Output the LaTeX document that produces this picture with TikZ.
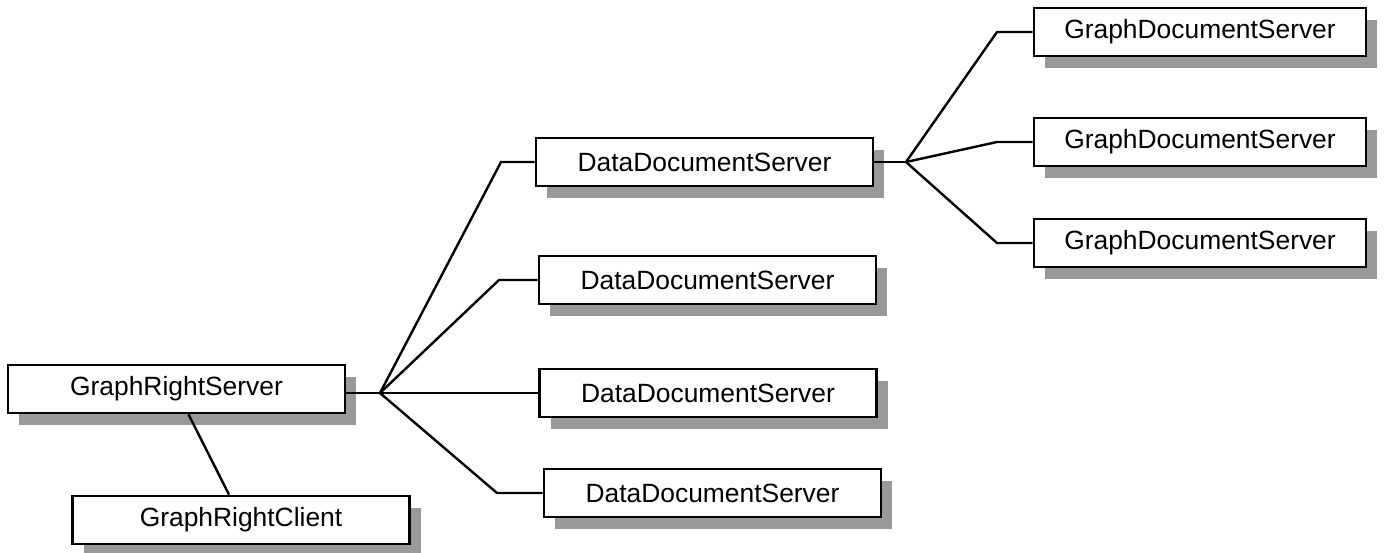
\documentclass[tikz,border=0pt]{standalone}
\usepackage{fontspec}
\setmainfont{Liberation Sans}
\usetikzlibrary{shadows}

\begin{document}
\begin{tikzpicture}[x=0.5pt,y=-0.5pt,line width=1.2pt,
  every node/.style={font=\fontsize{13.2}{16}\selectfont},
  srv/.style={draw,line width=1.35pt,fill=white,minimum width=168.5pt,minimum height=24pt,inner sep=0pt,
    drop shadow={shadow xshift=5.5pt,shadow yshift=-6pt,fill=black!40,opacity=1}}]
  \useasboundingbox (0,0) rectangle (1390,552);
  \node[srv] (grs) at (176.5,389) {GraphRightServer};
  \node[srv] (grc) at (241,520) {GraphRightClient};
  \node[srv] (dds1) at (704.5,162) {DataDocumentServer};
  \node[srv] (dds2) at (707.5,280) {DataDocumentServer};
  \node[srv] (dds3) at (708,393) {DataDocumentServer};
  \node[srv] (dds4) at (712.5,493) {DataDocumentServer};
  \node[srv,minimum width=166pt] (gds1) at (1200,32) {GraphDocumentServer};
  \node[srv,minimum width=166pt] (gds2) at (1200,142) {GraphDocumentServer};
  \node[srv,minimum width=166pt] (gds3) at (1200,243) {GraphDocumentServer};
  % fan points
  \coordinate (j1) at (380,393);
  \coordinate (s1) at (501,162);
  \coordinate (s2) at (499,280);
  \coordinate (s4) at (497,493);
  \coordinate (j2) at (906,162);
  \coordinate (t1) at (997,32);
  \coordinate (t2) at (997,142);
  \coordinate (t3) at (997,243);
  \draw ([xshift=6pt]grs.south) -- ([xshift=-6pt]grc.north);
  \draw (grs.east |- j1) -- (j1);
  \draw (j1) -- (s1) -- (dds1.west);
  \draw (j1) -- (s2) -- (dds2.west);
  \draw (j1) -- (dds3.west);
  \draw (j1) -- (s4) -- (dds4.west);
  \draw (dds1.east) -- (j2);
  \draw (j2) -- (t1) -- (gds1.west);
  \draw (j2) -- (t2) -- (gds2.west);
  \draw (j2) -- (t3) -- (gds3.west);
\end{tikzpicture}
\end{document}
